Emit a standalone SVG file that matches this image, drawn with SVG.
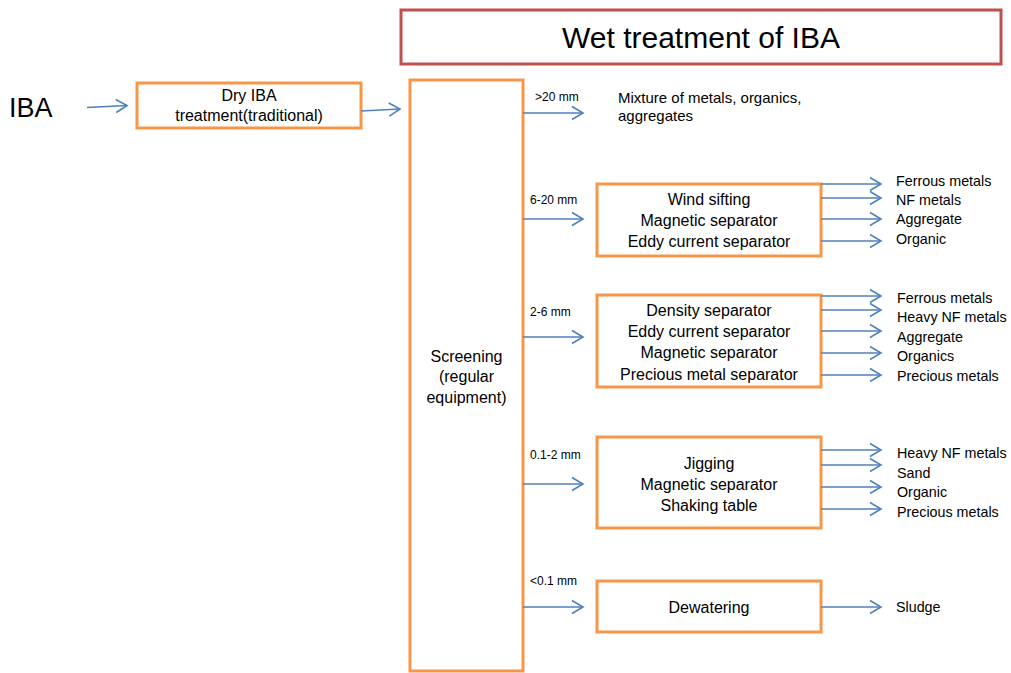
<svg xmlns="http://www.w3.org/2000/svg" width="1011" height="673" viewBox="0 0 1011 673">
<defs>
<marker id="ah" markerUnits="userSpaceOnUse" markerWidth="14" markerHeight="16" refX="12" refY="8" orient="auto">
<path d="M1,1.5 L12,8 L1,14.5" fill="none" stroke="#4F81BD" stroke-width="1.6"/>
</marker>
</defs>
<style>
text{font-family:"Liberation Sans",Arial,sans-serif;fill:#000}
.box{fill:#fff;stroke:#F79646;stroke-width:3}
.title{fill:#fff;stroke:#C0504D;stroke-width:3}
.bt{font-size:16px;text-anchor:middle}
.ol{font-size:14.3px}
.mx{font-size:15px}
.sz{font-size:12px}
.c line{stroke:#4F81BD;stroke-width:1.6;marker-end:url(#ah)}
</style>
<rect width="1011" height="673" fill="#fff"/>
<g id="title"><rect class="title" x="401" y="10" width="600" height="54"/><text x="701" y="48" font-size="30" text-anchor="middle">Wet treatment of IBA</text></g>
<g id="iba"><text x="9" y="117" font-size="27">IBA</text></g>
<g id="dry"><rect class="box" x="137" y="83" width="224" height="45"/><text class="bt" x="249" y="101">Dry IBA</text><text class="bt" x="249" y="121">treatment(traditional)</text></g>
<g id="screening"><rect class="box" x="410" y="80" width="113" height="591"/><text class="bt" x="466.5" y="362">Screening</text><text class="bt" x="466.5" y="382">(regular</text><text class="bt" x="466.5" y="403">equipment)</text></g>
<g id="mixture"><text class="mx" x="618" y="103">Mixture of metals, organics,</text><text class="mx" x="618" y="121">aggregates</text></g>
<g id="wind"><rect class="box" x="597" y="184" width="224" height="72"/><text class="bt" x="709" y="205">Wind sifting</text><text class="bt" x="709" y="226">Magnetic separator</text><text class="bt" x="709" y="247">Eddy current separator</text></g>
<g id="density"><rect class="box" x="597" y="295" width="224" height="92"/><text class="bt" x="709" y="316">Density separator</text><text class="bt" x="709" y="337">Eddy current separator</text><text class="bt" x="709" y="358">Magnetic separator</text><text class="bt" x="709" y="380">Precious metal separator</text></g>
<g id="jigging"><rect class="box" x="597" y="437" width="224" height="91"/><text class="bt" x="709" y="469">Jigging</text><text class="bt" x="709" y="490">Magnetic separator</text><text class="bt" x="709" y="511">Shaking table</text></g>
<g id="dewatering"><rect class="box" x="597" y="581" width="224" height="51"/><text class="bt" x="709" y="613">Dewatering</text></g>
<g id="labels">
<text class="sz" x="535" y="101">&gt;20 mm</text>
<text class="sz" x="530" y="204">6-20 mm</text>
<text class="sz" x="530" y="316">2-6 mm</text>
<text class="sz" x="530" y="459">0.1-2 mm</text>
<text class="sz" x="530" y="585">&lt;0.1 mm</text>
<text class="ol" x="896" y="186">Ferrous metals</text>
<text class="ol" x="896" y="205">NF metals</text>
<text class="ol" x="896" y="224">Aggregate</text>
<text class="ol" x="896" y="244">Organic</text>
<text class="ol" x="897" y="303">Ferrous metals</text>
<text class="ol" x="897" y="322">Heavy NF metals</text>
<text class="ol" x="897" y="342">Aggregate</text>
<text class="ol" x="897" y="361">Organics</text>
<text class="ol" x="897" y="381">Precious metals</text>
<text class="ol" x="897" y="458">Heavy NF metals</text>
<text class="ol" x="897" y="478">Sand</text>
<text class="ol" x="897" y="497">Organic</text>
<text class="ol" x="897" y="517">Precious metals</text>
<text class="ol" x="896" y="612">Sludge</text>
</g>
<g class="c" id="connectors">
<line x1="87" y1="107.5" x2="127" y2="105.5"/>
<line x1="361" y1="111" x2="400" y2="109"/>
<line x1="523" y1="113" x2="583" y2="113"/>
<line x1="523" y1="219" x2="583" y2="219"/>
<line x1="523" y1="337" x2="583" y2="337"/>
<line x1="523" y1="484" x2="583" y2="484"/>
<line x1="523" y1="607" x2="583" y2="607"/>
<line x1="821" y1="184" x2="881" y2="184"/>
<line x1="821" y1="198" x2="881" y2="198"/>
<line x1="821" y1="219" x2="881" y2="219"/>
<line x1="821" y1="241" x2="881" y2="241"/>
<line x1="821" y1="296" x2="881" y2="296"/>
<line x1="821" y1="310" x2="881" y2="310"/>
<line x1="821" y1="331" x2="881" y2="331"/>
<line x1="821" y1="353" x2="881" y2="353"/>
<line x1="821" y1="375" x2="881" y2="375"/>
<line x1="821" y1="450" x2="881" y2="450"/>
<line x1="821" y1="465" x2="881" y2="465"/>
<line x1="821" y1="487" x2="881" y2="487"/>
<line x1="821" y1="509" x2="881" y2="509"/>
<line x1="821" y1="607" x2="881" y2="607"/>
</g>
</svg>
